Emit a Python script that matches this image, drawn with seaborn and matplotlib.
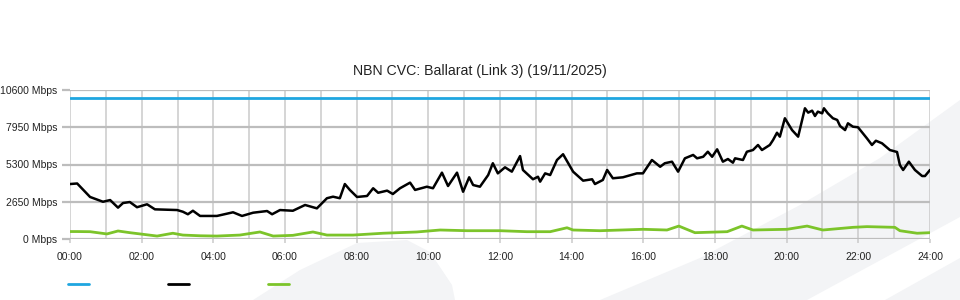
import matplotlib
matplotlib.use("Agg")
import matplotlib.pyplot as plt
from matplotlib.patches import Polygon
from matplotlib.lines import Line2D
import seaborn as sns
import pandas as pd

# ---- data ----
capacity_mbps = 10000

traffic_hours = [0.00, 0.20, 0.56, 0.92, 1.12, 1.34, 1.48, 1.67, 1.87, 2.15, 2.37, 2.99, 3.15, 3.29,
                 3.43, 3.63, 4.10, 4.55, 4.80, 5.11, 5.50, 5.64, 5.86, 6.22, 6.56, 6.89, 7.17, 7.34,
                 7.53, 7.67, 7.81, 8.01, 8.29, 8.46, 8.60, 8.85, 9.01, 9.21, 9.49, 9.63, 9.96, 10.13,
                 10.38, 10.55, 10.80, 10.97, 11.14, 11.25, 11.44, 11.67, 11.80, 11.94, 12.14, 12.33,
                 12.56, 12.64, 12.92, 13.06, 13.12, 13.26, 13.40, 13.59, 13.76, 14.04, 14.32, 14.57,
                 14.65, 14.87, 14.99, 15.15, 15.43, 15.82, 15.99, 16.24, 16.47, 16.60, 16.80, 16.97,
                 17.16, 17.39, 17.50, 17.67, 17.80, 17.92, 18.06, 18.22, 18.36, 18.50, 18.56, 18.78,
                 18.89, 19.06, 19.20, 19.31, 19.53, 19.62, 19.73, 19.81, 19.95, 20.15, 20.32, 20.51,
                 20.60, 20.71, 20.79, 20.87, 20.99, 21.04, 21.15, 21.29, 21.41, 21.49, 21.63, 21.71,
                 21.85, 21.99, 22.24, 22.38, 22.49, 22.66, 22.88, 23.08, 23.16, 23.25, 23.41, 23.58,
                 23.78, 23.86, 24.00]
traffic_mbps = [3910, 3950, 2990, 2650, 2770, 2230, 2560, 2630, 2260, 2470, 2110, 2060, 1940, 1760,
                2010, 1640, 1640, 1900, 1640, 1870, 1990, 1760, 2060, 2010, 2420, 2180, 2900, 3010,
                2900, 3910, 3490, 2990, 3060, 3610, 3290, 3440, 3200, 3610, 4010, 3490, 3720, 3610,
                4720, 3770, 4720, 3360, 4390, 3840, 3720, 4550, 5390, 4670, 5100, 4790,
                5900, 4910, 4250, 4430, 4080, 4670, 4550, 5620, 6030, 4790, 4150, 4250,
                3910, 4200, 4910, 4320, 4390, 4670, 4670, 5620, 5140, 5390, 5500, 4790,
                5740, 5980, 5740, 5850, 6210, 5850, 6380, 5500, 5690, 5430, 5740, 5620,
                6210, 6330, 6690, 6330, 6690, 7040, 7560, 7280, 8590, 7750, 7280, 9300,
                8990, 9130, 8750, 9060, 8940, 9300, 8940, 8590, 8470, 8040, 7750, 8230,
                7990, 7950, 7160, 6690, 6990, 6810, 6330, 6190, 5260, 4910, 5500, 4910,
                4480, 4480, 4910]

upload_hours = [0.00, 0.20, 0.56, 1.03, 1.34, 1.67, 2.43, 2.87, 3.15, 3.63, 4.10, 4.74, 5.30, 5.67,
                6.22, 6.78, 7.17, 7.90, 8.74, 9.68, 10.33, 11.08, 12.00, 12.75, 13.40, 13.87, 14.04,
                14.79, 15.99, 16.66, 16.99, 17.44, 18.34, 18.75, 19.06, 20.01, 20.57, 21.01, 21.85,
                22.24, 23.02, 23.16, 23.64, 24.00]
upload_mbps = [530, 530, 520, 360, 570, 450, 210, 410, 280, 230, 210, 280, 500, 210,
               260, 500, 280, 280, 410, 500, 640, 590, 590, 520, 520, 800, 640,
               590, 690, 640, 920, 450, 520, 920, 640, 690, 920, 640, 830,
               880, 830, 590, 410, 450]

y_ticks = [0, 2650, 5300, 7950, 10600]
x_ticks = list(range(0, 25, 2))
title = "NBN CVC: Ballarat (Link 3) (19/11/2025)"

# ---- style ----
sns.set_theme(style="white")
plt.rcParams["font.family"] = ["Liberation Sans", "DejaVu Sans"]

BLUE = "#1fa6e0"
GREEN = "#7cc42a"
GRID_H = "#bdbdbd"
GRID_V = "#cacaca"
BG = "#f3f4f6"

fig = plt.figure(figsize=(9.6, 3.0), dpi=100, facecolor="white")


def px(x, y):
    return (x / 960, 1 - y / 300)


# faint background swoosh (decoration, figure pixel coordinates), behind everything
for pts in [
    [(253, 300), (300, 270), (357, 243), (407, 240), (430, 252), (452, 285), (455, 300)],
    [(600, 300), (700, 258), (800, 205), (880, 158), (960, 100), (960, 217), (807, 300)],
    [(885, 300), (960, 258), (960, 300)],
]:
    fig.patches.append(Polygon([px(*p) for p in pts], closed=True, transform=fig.transFigure,
                               facecolor=BG, edgecolor="none", zorder=-10))

ax = fig.add_axes([70 / 960, 1 - 239 / 300, 860 / 960, 149 / 300])
ax.set_zorder(1)
ax.set_facecolor("none")
ax.patch.set_alpha(0)

df_t = pd.DataFrame({"hour": traffic_hours, "mbps": traffic_mbps})
df_u = pd.DataFrame({"hour": upload_hours, "mbps": upload_mbps})
df_c = pd.DataFrame({"hour": [0, 24], "mbps": [capacity_mbps, capacity_mbps]})

sns.lineplot(data=df_c, x="hour", y="mbps", ax=ax, color=BLUE, lw=2.0, zorder=3)
sns.lineplot(data=df_u, x="hour", y="mbps", ax=ax, color=GREEN, lw=2.0, zorder=3)
sns.lineplot(data=df_t, x="hour", y="mbps", ax=ax, color="black", lw=1.8, zorder=4)

ax.set_xlim(0, 24)
ax.set_ylim(0, 10600)
ax.set_xticks(x_ticks)
ax.set_xticklabels([f"{h:02d}:00" for h in x_ticks])
ax.set_xticks(range(0, 25), minor=True)
ax.set_yticks(y_ticks)
ax.set_yticklabels([f"{v} Mbps" for v in y_ticks])
ax.set_xlabel("")
ax.set_ylabel("")

ax.grid(False)
for h in range(0, 25):
    ax.axvline(h, color=GRID_V, lw=1.1, zorder=1)
for v in y_ticks:
    ax.axhline(v, color=GRID_H, lw=1.6, zorder=1)

for s in ax.spines.values():
    s.set_visible(False)

ax.tick_params(axis="x", which="major", length=3, width=1.1, color=GRID_V,
               pad=6, labelsize=7.5, labelcolor="#222222", bottom=True)
ax.tick_params(axis="x", which="minor", length=0)
ax.tick_params(axis="y", length=6, width=1.6, color=GRID_H, pad=3,
               labelsize=7.5, labelcolor="#222222", left=True)

fig.text(480 / 960, 1 - 71 / 300, title, ha="center", va="center",
         fontsize=10.2, color="#222222")

handles = [Line2D([], [], color=BLUE, lw=2.0),
           Line2D([], [], color="black", lw=2.0),
           Line2D([], [], color=GREEN, lw=2.0)]
fig.legend(handles, ["", "", ""], loc="center left",
           bbox_to_anchor=(68 / 960, 15 / 300), ncol=3, frameon=False,
           fontsize=8, handlelength=1.9, handletextpad=0.0, columnspacing=7.1,
           borderaxespad=0, borderpad=0)

fig.savefig("out.png", dpi=100, facecolor="white")
